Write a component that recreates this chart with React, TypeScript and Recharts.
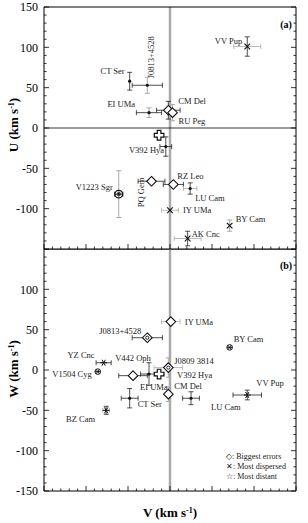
import React from 'react';
import { ScatterChart, Scatter, XAxis, YAxis, ErrorBar, ReferenceLine, Customized } from 'recharts';

const SERIF = '"Liberation Serif", "Times New Roman", serif';

// tick labels
const uTickLabels = [-100, -50, 0, 50, 100, 150];
const wTickLabels = [-150, -100, -50, 0, 50, 100];
const vTickLabels = [-150, -100, -50, 0, 50, 100, 150];
// tick marks every 10 km/s (long ones every 50)
const tickMarks = Array.from({ length: 31 }, (_, i) => -150 + i * 10);

type Star = { name: string; v: number; u?: number; w?: number; ev?: number; eu?: number; ew?: number };

// ---- panel (a): V vs U ----
const uvBiggest: Star[] = [
  { name: 'CM Del', v: -2, u: 22, ev: 14, eu: 11 },
  { name: 'RU Peg', v: 3, u: 19, eu: 10 },
  { name: 'PQ Gem', v: -22, u: -66, ev: 16 },
  { name: 'RZ Leo', v: 4, u: -70, ev: 12 },
];
const uvDispersed: Star[] = [
  { name: 'VV Pup', v: 92, u: 101, ev: 16, eu: 12 },
  { name: 'IY UMa', v: 0, u: -102, ev: 10 },
  { name: 'BY Cam', v: 71, u: -121, eu: 7 },
  { name: 'AK Cnc', v: 21, u: -137, ev: 16, eu: 9 },
];
const uvOther: Star[] = [
  { name: 'CT Ser', v: -48, u: 58, eu: 11 },
  { name: 'J0813+4528', v: -27, u: 53, ev: 18, eu: 10 },
  { name: 'EI UMa', v: -25, u: 19, ev: 15, eu: 6 },
  { name: 'J0809 3814', v: -5, u: -23, ev: 7, eu: 12 },
  { name: 'LU Cam', v: 24, u: -75, ev: 8, eu: 7 },
];
const uvOpen: Star[] = [{ name: 'V392 Hya', v: -13, u: -9 }];
const uvCircled: Star[] = [{ name: 'V1223 Sgr', v: -61, u: -82, ev: 5, eu: 29 }];

// ---- panel (b): V vs W ----
const vwBiggest: Star[] = [
  { name: 'IY UMa', v: 1, w: 60, ev: 11 },
  { name: 'J0813+4528', v: -27, w: 40, ev: 18 },
  { name: 'V442 Oph', v: -44, w: -7, ev: 17 },
  { name: 'J0809 3814', v: -2, w: 3, ev: 17, ew: 12 },
  { name: 'CM Del', v: -2, w: -30, ew: 9 },
];
const vwDistant: Star[] = [
  { name: 'YZ Cnc', v: -79, w: 9, ev: 9 },
  { name: 'BZ Cam', v: -76, w: -50, ev: 4, ew: 5 },
  { name: 'VV Pup', v: 92, w: -31, ev: 17, ew: 6 },
];
const vwCircled: Star[] = [
  { name: 'V1504 Cyg', v: -86, w: -2 },
  { name: 'BY Cam', v: 71, w: 28 },
];
const vwOther: Star[] = [
  { name: 'EI UMa', v: -25, w: -5, ev: 10, ew: 14 },
  { name: 'CT Ser', v: -48, w: -35, ev: 10, ew: 12 },
  { name: 'LU Cam', v: 25, w: -35, ev: 10, ew: 8 },
];
const vwOpen: Star[] = [{ name: 'V392 Hya', v: -13, w: -5, ev: 6 }];

// error bars drawn in light grey
const faint: Record<string, Set<string>> = {
  uv: new Set(['VV Pup|x', 'IY UMa|x', 'BY Cam|y', 'AK Cnc|x', 'J0813+4528|y', 'EI UMa|y', 'LU Cam|x', 'V1223 Sgr|y', 'RU Peg|y']),
  vw: new Set(['IY UMa|x', 'J0809 3814|x', 'J0809 3814|y', 'CM Del|y', 'BZ Cam|x', 'V392 Hya|x']),
};

// label placement: dx, dy, anchor, rotation
const labelPos: Record<string, Record<string, [number, number, string, number?]>> = {
  uv: {
    'VV Pup': [-5, -3, 'end'],
    'CT Ser': [-5, -7, 'end'],
    'J0813+4528': [7, -7, 'start', -90],
    'EI UMa': [-14, -6, 'end'],
    'CM Del': [10, -6, 'start'],
    'RU Peg': [6, 11, 'start'],
    'V392 Hya': [5, 18, 'end'],
    'V1223 Sgr': [-6, -4, 'end'],
    'PQ Gem': [-8, 26, 'start', -90],
    'RZ Leo': [4, -5, 'start'],
    'LU Cam': [5, 12, 'start'],
    'IY UMa': [13, 3, 'start'],
    'BY Cam': [6, -4, 'start'],
    'AK Cnc': [4, -2, 'start'],
  },
  vw: {
    'IY UMa': [14, 3, 'start'],
    'J0813+4528': [-6, -4, 'end'],
    'BY Cam': [4, -5, 'start'],
    'YZ Cnc': [-9, -5, 'end'],
    'V442 Oph': [0, -15, 'middle'],
    'J0809 3814': [6, -4, 'start'],
    'V392 Hya': [18, 4, 'start'],
    'V1504 Cyg': [-6, 5, 'end'],
    'EI UMa': [-9, 16, 'start'],
    'CM Del': [6, -5, 'start'],
    'CT Ser': [8, 9, 'start'],
    'LU Cam': [20, 12, 'start'],
    'VV Pup': [9, -9, 'start'],
    'BZ Cam': [-11, 12, 'end'],
  },
};
const dottedDiamonds = new Set(['J0813+4528', 'J0809 3814']);

const InTick = ({ x, y, payload, side }: any) => {
  const len = payload.value % 50 === 0 ? 5 : 2.5;
  const d: Record<string, [number, number]> = { left: [len, 0], right: [-len, 0], top: [0, len], bottom: [0, -len] };
  const [dx, dy] = d[side];
  return <line x1={x} y1={y} x2={x + dx} y2={y + dy} stroke="#000" strokeWidth={0.8} />;
};

const Mark = ({ cx, cy, payload, kind, panel }: any) => {
  if (cx == null || cy == null) return null;
  const s = '#111';
  let m: React.ReactNode = null;
  if (kind === 'diamond') {
    const r = 4.8;
    m = (
      <g>
        <polygon points={`${cx},${cy - r} ${cx + r},${cy} ${cx},${cy + r} ${cx - r},${cy}`} fill="#fff" stroke={s} strokeWidth={1.1} />
        {panel === 'vw' && dottedDiamonds.has(payload.name) && <circle cx={cx} cy={cy} r={1.6} fill="none" stroke={s} strokeWidth={0.9} />}
      </g>
    );
  } else if (kind === 'cross') {
    const r = 2.8;
    m = (
      <g stroke={s} strokeWidth={1.1}>
        <line x1={cx - r} y1={cy - r} x2={cx + r} y2={cy + r} />
        <line x1={cx - r} y1={cy + r} x2={cx + r} y2={cy - r} />
      </g>
    );
  } else if (kind === 'dot') {
    m = <circle cx={cx} cy={cy} r={1.6} fill={s} />;
  } else if (kind === 'plus') {
    const a = 1.8, b = 4.8;
    const pts = [
      [-a, -b], [a, -b], [a, -a], [b, -a], [b, a], [a, a], [a, b], [-a, b], [-a, a], [-b, a], [-b, -a], [-a, -a],
    ].map(([px, py]) => `${cx + px},${cy + py}`).join(' ');
    m = <polygon points={pts} fill="#fff" stroke={s} strokeWidth={1.2} />;
  } else if (kind === 'star') {
    const r = 3.4;
    m = (
      <g stroke={s} strokeWidth={1}>
        <line x1={cx - r} y1={cy} x2={cx + r} y2={cy} />
        <line x1={cx - r * 0.5} y1={cy - r * 0.87} x2={cx + r * 0.5} y2={cy + r * 0.87} />
        <line x1={cx - r * 0.5} y1={cy + r * 0.87} x2={cx + r * 0.5} y2={cy - r * 0.87} />
      </g>
    );
  } else if (kind === 'circled') {
    m = (
      <g stroke={s} fill="none">
        <circle cx={cx} cy={cy} r={3.8} strokeWidth={1.3} />
        <circle cx={cx} cy={cy} r={1.8} strokeWidth={0.8} />
        <circle cx={cx} cy={cy} r={0.8} fill={s} />
      </g>
    );
  } else if (kind === 'circledStar') {
    const r = 2.6;
    m = (
      <g stroke={s} fill="none">
        <circle cx={cx} cy={cy} r={2.8} strokeWidth={1} />
        <line x1={cx - r} y1={cy} x2={cx + r} y2={cy} strokeWidth={0.9} />
        <line x1={cx - r * 0.6} y1={cy - r * 0.8} x2={cx + r * 0.6} y2={cy + r * 0.8} strokeWidth={0.9} />
        <line x1={cx - r * 0.6} y1={cy + r * 0.8} x2={cx + r * 0.6} y2={cy - r * 0.8} strokeWidth={0.9} />
      </g>
    );
  }
  const lp = labelPos[panel][payload.name];
  let label: React.ReactNode = null;
  if (lp) {
    const [dx, dy, anchor, rot] = lp;
    const lx = cx + dx, ly = cy + dy;
    label = (
      <text x={lx} y={ly} textAnchor={anchor as any} fontSize={8.5} fontFamily={SERIF} fill="#222"
        transform={rot ? `rotate(${rot} ${lx} ${ly})` : undefined}>
        {payload.name}
      </text>
    );
  }
  return <g>{m}{label}</g>;
};

function series(panel: 'uv' | 'vw', data: Star[], kind: string) {
  const ey = panel === 'uv' ? 'eu' : 'ew';
  const isFaint = (d: any, dir: string) => faint[panel].has(`${d.name}|${dir}`);
  return (
    <Scatter key={panel + kind} data={data} xAxisId="b" yAxisId="l" isAnimationActive={false}
      shape={(p: any) => <Mark {...p} kind={kind} panel={panel} />}>
      <ErrorBar direction="x" dataKey={(d: any) => (isFaint(d, 'x') ? 0 : d.ev || 0)} width={2.5} stroke="#222" strokeWidth={0.8} isAnimationActive={false} />
      <ErrorBar direction="x" dataKey={(d: any) => (isFaint(d, 'x') ? d.ev || 0 : 0)} width={2.5} stroke="#aaa" strokeWidth={0.8} isAnimationActive={false} />
      <ErrorBar direction="y" dataKey={(d: any) => (isFaint(d, 'y') ? 0 : d[ey] || 0)} width={2.5} stroke="#222" strokeWidth={0.8} isAnimationActive={false} />
      <ErrorBar direction="y" dataKey={(d: any) => (isFaint(d, 'y') ? d[ey] || 0 : 0)} width={2.5} stroke="#aaa" strokeWidth={1} isAnimationActive={false} />
    </Scatter>
  );
}

const DOMAIN: [number, number] = [-150, 150];

function frame(yKey: string) {
  const common = {
    type: 'number' as const, domain: DOMAIN, allowDataOverflow: true, ticks: tickMarks, interval: 0 as const,
    tickSize: 0, tickMargin: 0, tickLine: false, mirror: true, axisLine: { stroke: '#000', strokeWidth: 1 },
  };
  return [
    <XAxis key="xb" xAxisId="b" orientation="bottom" dataKey="v" height={1} tick={<InTick side="bottom" />} {...common} />,
    <XAxis key="xt" xAxisId="t" orientation="top" height={1} tick={<InTick side="top" />} {...common} />,
    <YAxis key="yl" yAxisId="l" orientation="left" dataKey={yKey} width={1} tick={<InTick side="left" />} {...common} />,
    <YAxis key="yr" yAxisId="r" orientation="right" width={1} tick={<InTick side="right" />} {...common} />,
  ];
}

const tickStyle = { fontSize: 12, fill: '#000', fontFamily: SERIF };

const Title = ({ x, y, letter, rotate }: any) => (
  <text x={x} y={y} textAnchor="middle" fontSize={13} fontWeight="bold" fontFamily={SERIF} fill="#000"
    transform={rotate ? `rotate(-90 ${x} ${y})` : undefined}>
    <tspan>{letter} (km s</tspan>
    <tspan dy={-4} fontSize={8}>-1</tspan>
    <tspan dy={4}>)</tspan>
  </text>
);

const TopDecor = () => (
  <g>
    <text x={286} y={28} textAnchor="middle" fontSize={10} fontWeight="bold" fontFamily={SERIF}>(a)</text>
    <Title x={18} y={125} letter="U" rotate />
  </g>
);

const legendRows = ['\u25C7: Biggest errors', '\u2715: Most dispersed', '\u2606: Most distant'];

const BottomDecor = () => (
  <g>
    <text x={286} y={20} textAnchor="middle" fontSize={10} fontWeight="bold" fontFamily={SERIF}>(b)</text>
    <Title x={18} y={120} letter="W" rotate />
    <Title x={170} y={268} letter="V" />
    {legendRows.map((r, i) => (
      <text key={r} x={226} y={210 + i * 10} fontSize={8} fontFamily={SERIF} fill="#222">{r}</text>
    ))}
  </g>
);

export default function App() {
  return (
    <div style={{ position: 'relative', width: 308, height: 523, overflow: 'hidden', background: '#fff' }}>
      <style>{'body{margin:0}'}</style>
      <div style={{ position: 'absolute', left: 0, top: 0 }}>
        <ScatterChart width={308} height={250} margin={{ top: 7, right: 12, bottom: 1, left: 0 }}>
          {frame('u')}
          <YAxis yAxisId="lab" orientation="left" type="number" domain={DOMAIN} allowDataOverflow width={44}
            ticks={uTickLabels} interval={0} tickSize={0} tickMargin={6} tickLine={false} axisLine={false} tick={tickStyle} />
          <ReferenceLine x={0} xAxisId="b" yAxisId="l" stroke="#aaa" strokeWidth={2.5} />
          <ReferenceLine y={0} xAxisId="b" yAxisId="l" stroke="#000" strokeWidth={0.8} />
          {series('uv', uvBiggest, 'diamond')}
          {series('uv', uvDispersed, 'cross')}
          {series('uv', uvOther, 'dot')}
          {series('uv', uvOpen, 'plus')}
          {series('uv', uvCircled, 'circled')}
          <Customized component={TopDecor} />
        </ScatterChart>
      </div>
      <div style={{ position: 'absolute', left: 0, top: 249 }}>
        <ScatterChart width={308} height={274} margin={{ top: 0, right: 12, bottom: 0, left: 0 }}>
          {frame('w')}
          <YAxis yAxisId="lab" orientation="left" type="number" domain={DOMAIN} allowDataOverflow width={44}
            ticks={wTickLabels} interval={0} tickSize={0} tickMargin={6} tickLine={false} axisLine={false} tick={tickStyle} />
          <XAxis xAxisId="lab" orientation="bottom" type="number" domain={DOMAIN} allowDataOverflow height={32}
            ticks={vTickLabels} interval={0} tickSize={0} tickMargin={7} tickLine={false} axisLine={false} tick={tickStyle} />
          <ReferenceLine x={0} xAxisId="b" yAxisId="l" stroke="#aaa" strokeWidth={2.5} />
          {series('vw', vwBiggest, 'diamond')}
          {series('vw', vwDistant, 'star')}
          {series('vw', vwCircled, 'circledStar')}
          {series('vw', vwOther, 'dot')}
          {series('vw', vwOpen, 'plus')}
          <Customized component={BottomDecor} />
        </ScatterChart>
      </div>
    </div>
  );
}
